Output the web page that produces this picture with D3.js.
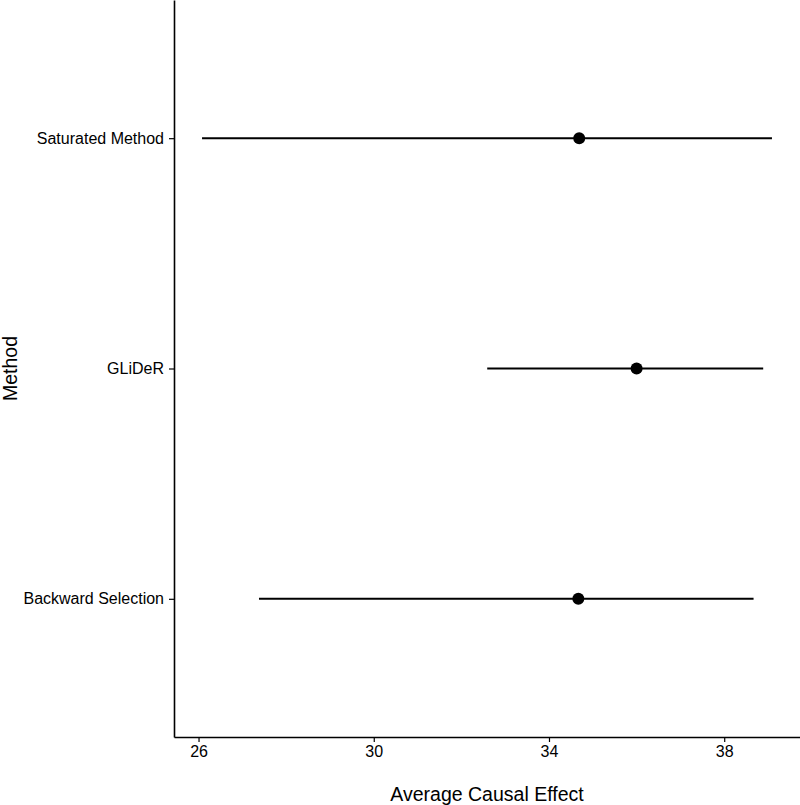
<!DOCTYPE html>
<html>
<head>
<meta charset="utf-8">
<script src="https://cdn.jsdelivr.net/npm/d3@7"></script>
<style>
  body { margin: 0; background: #fff; }
  svg { display: block; font-family: "Liberation Sans", Arial, sans-serif; }
</style>
</head>
<body>
<svg id="chart" width="800" height="805"></svg>
<script>
// data
const methods = ["Saturated Method", "GLiDeR", "Backward Selection"];
const estimates = [34.69, 36.0, 34.67];
const lower = [26.08, 32.59, 27.38];
const upper = [39.09, 38.89, 38.67];
const xTicks = [26, 30, 34, 38];

const rows = methods.map((m, i) => ({
  method: m, est: estimates[i], lo: lower[i], hi: upper[i]
}));

const margin = { top: 0, right: 0, bottom: 68, left: 174 };
const width = 800, height = 805;
const svg = d3.select("#chart");

const x = d3.scaleLinear()
  .domain([25.44, 39.73])
  .range([margin.left, width - margin.right]);

// discrete axis with ggplot-style 0.6 expansion
const y = d3.scalePoint()
  .domain(methods)
  .range([margin.top, height - margin.bottom])
  .padding(0.6);

const g = svg.append("g");

g.selectAll("line.ci")
  .data(rows)
  .join("line")
  .attr("class", "ci")
  .attr("x1", d => x(d.lo))
  .attr("x2", d => x(d.hi))
  .attr("y1", d => y(d.method))
  .attr("y2", d => y(d.method))
  .attr("stroke", "#000")
  .attr("stroke-width", 2);

g.selectAll("circle")
  .data(rows)
  .join("circle")
  .attr("cx", d => x(d.est))
  .attr("cy", d => y(d.method))
  .attr("r", 6)
  .attr("fill", "#000");

// x axis
const xAxis = svg.append("g")
  .attr("transform", `translate(0,${height - margin.bottom})`)
  .call(d3.axisBottom(x).tickValues(xTicks).tickSize(5).tickPadding(4).tickSizeOuter(0));
xAxis.select(".domain").attr("stroke-width", 1.6);
xAxis.selectAll(".tick line").attr("stroke-width", 1.2);
xAxis.selectAll("text").attr("font-size", 16).attr("fill", "#000");

// y axis
const yAxis = svg.append("g")
  .attr("transform", `translate(${margin.left},0)`)
  .call(d3.axisLeft(y).tickSize(5).tickPadding(5).tickSizeOuter(0));
yAxis.select(".domain").attr("stroke-width", 1.6);
yAxis.selectAll(".tick line").attr("stroke-width", 1.2);
yAxis.selectAll("text").attr("font-size", 16).attr("fill", "#000");

// titles
svg.append("text")
  .attr("x", (margin.left + width) / 2)
  .attr("y", 801)
  .attr("text-anchor", "middle")
  .attr("font-size", 19.5)
  .text("Average Causal Effect");

svg.append("text")
  .attr("transform", `translate(17,${(height - margin.bottom) / 2}) rotate(-90)`)
  .attr("text-anchor", "middle")
  .attr("font-size", 19.5)
  .text("Method");
</script>
</body>
</html>
